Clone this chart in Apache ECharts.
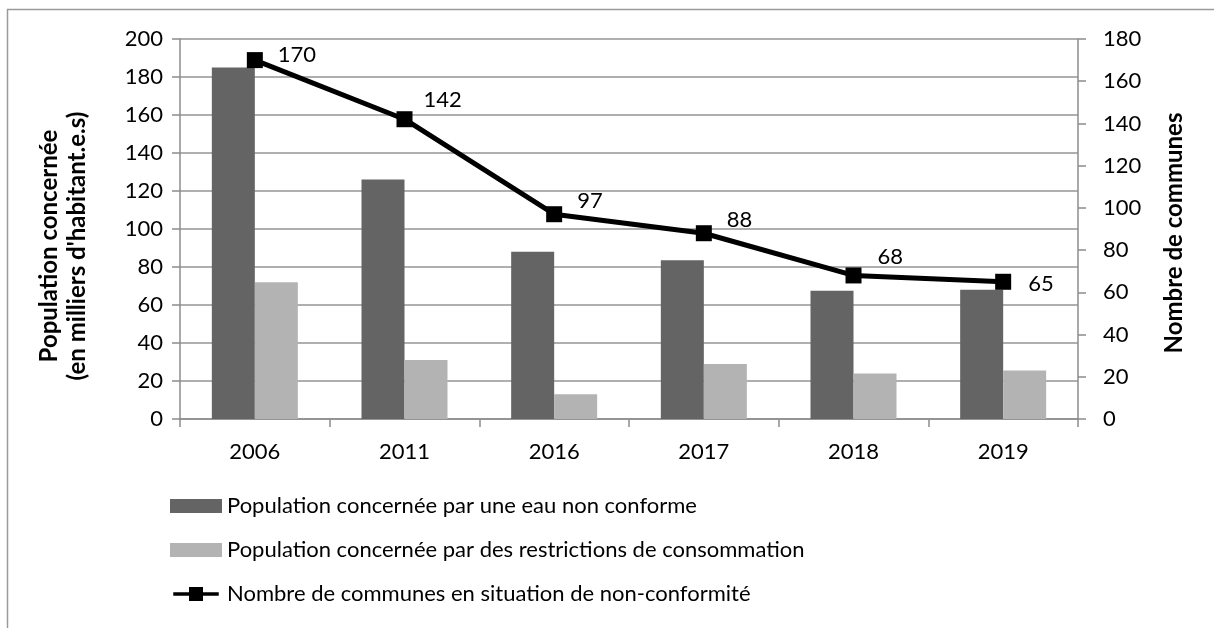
<!DOCTYPE html>
<html>
<head>
<meta charset="utf-8">
<script src="https://cdn.jsdelivr.net/npm/echarts@6/dist/echarts.min.js"></script>
<style>
  html, body { margin: 0; padding: 0; background: #ffffff; }
  #chart { width: 1214px; height: 628px; }
</style>
</head>
<body>
<div id="chart"></div>
<script>
// Years on the horizontal axis
const years = ['2006', '2011', '2016', '2017', '2018', '2019'];

// Population (thousands of inhabitants), left axis
const popNonConforme = [185, 126, 88, 83.5, 67.5, 68];
const popRestrictions = [72, 31, 13, 29, 24, 25.5];

// Number of municipalities, right axis
const nbCommunes = [170, 142, 97, 88, 68, 65];

const seriesNames = [
  'Population concernée par une eau non conforme',
  'Population concernée par des restrictions de consommation',
  'Nombre de communes en situation de non-conformité'
];

const FONT = 'Lato, "Open Sans", sans-serif';
const FS = 22;
const AXIS_GRAY = '#8c8c8c';
const GRID_GRAY = '#959595';

// small nudges so each value label sits clear of the line
const labelNudge = [[1, -5], [-3, -19], [1, -13], [1, -13], [2, -19], [3, 2]];

// legend glyph for the line series: thick stroke with a square in the middle
const lineLegendIcon = 'path://M0 6H18V0H34V6H52V10H34V16H18V10H0Z';

const chart = echarts.init(document.getElementById('chart'), null, { renderer: 'canvas' });

chart.setOption({
  animation: false,
  backgroundColor: '#ffffff',
  textStyle: { fontFamily: FONT },
  grid: { left: 180, right: 136, top: 39, bottom: 209, containLabel: false },
  legend: {
    orient: 'vertical',
    left: 165,
    top: 489,
    itemWidth: 52,
    itemHeight: 14,
    itemGap: 20,
    textStyle: { fontFamily: FONT, fontSize: FS, color: '#000', lineHeight: 24 },
    data: [
      { name: seriesNames[0], icon: 'rect' },
      { name: seriesNames[1], icon: 'rect' },
      { name: seriesNames[2], icon: lineLegendIcon, itemStyle: { color: '#000', borderWidth: 0 } }
    ]
  },
  xAxis: {
    type: 'category',
    data: years,
    boundaryGap: true,
    axisLine: { show: true, lineStyle: { color: AXIS_GRAY, width: 1.5 } },
    axisTick: { show: true, length: 8, lineStyle: { color: AXIS_GRAY, width: 1.5 } },
    axisLabel: { fontFamily: FONT, fontSize: FS, color: '#000', margin: 22 },
    splitLine: { show: false }
  },
  yAxis: [
    {
      type: 'value',
      min: 0, max: 200, interval: 20,
      axisLine: { show: true, lineStyle: { color: AXIS_GRAY, width: 1.5 } },
      axisTick: { show: true, length: 8, lineStyle: { color: AXIS_GRAY, width: 1.5 } },
      axisLabel: { fontFamily: FONT, fontSize: FS, color: '#000', margin: 17 },
      splitLine: { show: true, lineStyle: { color: GRID_GRAY, width: 1.5 } }
    },
    {
      type: 'value',
      position: 'right',
      min: 0, max: 180, interval: 20,
      alignTicks: false,
      axisLine: { show: true, lineStyle: { color: AXIS_GRAY, width: 1.5 } },
      axisTick: { show: true, length: 8, lineStyle: { color: AXIS_GRAY, width: 1.5 } },
      axisLabel: { fontFamily: FONT, fontSize: FS, color: '#000', margin: 25 },
      splitLine: { show: false }
    }
  ],
  graphic: [
    // outer frame (top and left edges)
    {
      type: 'polyline', silent: true,
      shape: { points: [[7.5, 640], [7.5, 9.5], [1230, 9.5]] },
      style: { stroke: '#9a9a9a', lineWidth: 1.5, fill: null }
    },
    {
      type: 'text', silent: true,
      x: 49, y: 246, rotation: Math.PI / 2,
      style: { text: 'Population concernée', font: 'bold 24px ' + FONT, fill: '#000', align: 'center', verticalAlign: 'middle' }
    },
    {
      type: 'text', silent: true,
      x: 77, y: 246, rotation: Math.PI / 2,
      style: { text: "(en milliers d'habitant.e.s)", font: 'bold 24px ' + FONT, fill: '#000', align: 'center', verticalAlign: 'middle' }
    },
    {
      type: 'text', silent: true,
      x: 1174, y: 233, rotation: Math.PI / 2,
      style: { text: 'Nombre de communes', font: 'bold 24px ' + FONT, fill: '#000', align: 'center', verticalAlign: 'middle' }
    }
  ],
  series: [
    {
      name: seriesNames[0],
      type: 'bar',
      yAxisIndex: 0,
      data: popNonConforme,
      barWidth: 43,
      barGap: '0%',
      itemStyle: { color: '#646464' }
    },
    {
      name: seriesNames[1],
      type: 'bar',
      yAxisIndex: 0,
      data: popRestrictions,
      barWidth: 43,
      barGap: '0%',
      itemStyle: { color: '#b3b3b3' }
    },
    {
      name: seriesNames[2],
      type: 'line',
      yAxisIndex: 1,
      data: nbCommunes.map((v, i) => ({
        value: v,
        label: { offset: labelNudge[i] }
      })),
      symbol: 'rect',
      symbolSize: 16,
      lineStyle: { color: '#000', width: 5 },
      itemStyle: { color: '#000' },
      label: {
        show: true,
        position: 'right',
        distance: 14,
        fontFamily: FONT,
        fontSize: FS,
        color: '#000'
      },
      z: 5
    }
  ]
});
</script>
</body>
</html>
